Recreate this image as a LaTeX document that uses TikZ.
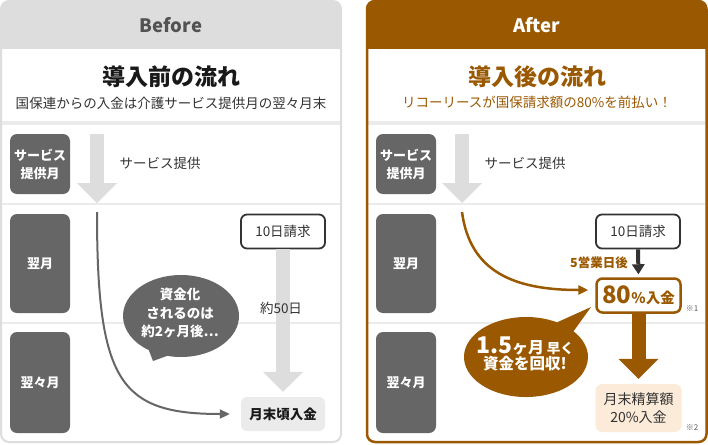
\documentclass[tikz,border=0pt]{standalone}
\usepackage{fontspec}
\setmainfont{Noto Sans CJK JP}
\usetikzlibrary{arrows.meta, shapes.callouts}
\definecolor{brn}{HTML}{9A5800}
\definecolor{boxgray}{HTML}{666666}
\definecolor{arrowgray}{HTML}{DDDDDD}
\definecolor{linegray}{HTML}{EBEBEB}
\definecolor{peach}{HTML}{FCEBD8}
\definecolor{ink}{HTML}{333333}
\newcommand{\fsz}[2]{\fontsize{#1}{#2}\selectfont}

\begin{document}
\begin{tikzpicture}[x=1pt, y=-1pt,
    month/.style={fill=boxgray, rounded corners=7pt, minimum width=60pt, text=white, align=center, font=\bfseries\fsz{13}{18}},
    bill/.style={draw=ink, line width=1.8pt, fill=white, rounded corners=6pt, minimum width=84pt, minimum height=34pt, text=ink, font=\fsz{13.5}{16}},
    note/.style={text=ink, font=\fsz{13.5}{16}},
    refmark/.style={text=ink!80, font=\fsz{8}{10}},
    blockarrow/.style={line width=14pt, -{Triangle[length=20pt, width=40pt, line width=0pt]}},
    bubble/.style={ellipse callout, callout pointer arc=20, inner sep=0pt}]
\useasboundingbox (0,0) rectangle (708,444);

\fill[white, rounded corners=8pt] (1,1) rectangle (341,442);
\fill[arrowgray, rounded corners=8pt] (1,1) rectangle (341,49);
\fill[arrowgray] (1,20) rectangle (341,49);
\fill[linegray] (1,121) rectangle (341,125);
\draw[linegray, line width=1.5pt] (1,204) -- (341,204) (1,323) -- (341,323);
\draw[arrowgray, line width=2pt, rounded corners=8pt] (1,1) rectangle (341,442);

\node[text=ink!85, font=\bfseries\fsz{18.5}{20}] (bhead) at (171,25) {Before};
\node[text=black!90, font=\bfseries\fsz{23}{25}] (btitle) at (171,77) {導入前の流れ};
\node[note] (bsub) at (171,103) {国保連からの入金は介護サービス提供月の翌々月末};

\node[month, minimum height=60pt] (bm1) at (40,164) {サービス\\提供月};
\node[month, minimum height=99pt] (bm2) at (40,263.5) {翌月};
\node[month, minimum height=101pt] (bm3) at (40,382.5) {翌々月};

\coordinate (bs1) at (97,134);
\coordinate (bs2) at (97,203);
\draw[blockarrow, arrowgray] (bs1) -- (bs2);
\node[note, anchor=west] (bsvc) at (116,163) {サービス提供};

\node[bill] (bbill) at (283,231.5) {10日請求};
\node[fill=linegray, rounded corners=6pt, minimum width=84pt, minimum height=34pt, text=black!90, font=\bfseries\fsz{13.5}{16}] (bpay) at (283,414) {月末頃入金};
\draw[blockarrow, arrowgray, shorten >=5pt] (bbill.south) -- (bpay.north);
\node[note] (bdays) at (281,308) {約50日};

\coordinate (bflow) at (97,212);
\draw[boxgray, line width=2pt, -{Triangle[length=10pt, width=9pt]}, shorten >=11pt] (bflow) .. controls +(0,170) and +(-121,0) .. (bpay.west);

\node[bubble, fill=boxgray, minimum width=116pt, minimum height=82pt, callout absolute pointer={(153,361)}] (bbub) at (181,316) {};
\node[text=white, align=center, font=\bfseries\fsz{13.5}{18.5}] (bbubtxt) at (180,313) {資金化\\されるのは\\約2ヶ月後⋯};

\fill[white, rounded corners=8pt] (367,1) rectangle (706.5,442);
\fill[brn, rounded corners=8pt] (367,1) rectangle (706.5,49);
\fill[brn] (367,20) rectangle (706.5,49);
\fill[linegray] (368,121) rectangle (705,125);
\draw[linegray, line width=1.5pt] (368,204) -- (705,204) (368,323) -- (705,323);
\draw[brn, line width=2.5pt, rounded corners=8pt] (367,1) rectangle (706.5,442);

\node[text=white, font=\bfseries\fsz{18.5}{20}] (ahead) at (537,25) {After};
\node[text=brn, font=\bfseries\fsz{23}{25}] (atitle) at (537,77) {導入後の流れ};
\node[text=brn, font=\fsz{13.5}{16}] (asub) at (537,102) {リコーリースが国保請求額の80\%を前払い！};

\node[month, minimum height=60pt] (am1) at (406,164) {サービス\\提供月};
\node[month, minimum height=99pt] (am2) at (406,263.5) {翌月};
\node[month, minimum height=101pt] (am3) at (406,382.5) {翌々月};

\coordinate (as1) at (462,134);
\coordinate (as2) at (462,203);
\draw[blockarrow, arrowgray] (as1) -- (as2);
\node[note, anchor=west] (asvc) at (481,163) {サービス提供};

\node[bill] (abill) at (638,231.5) {10日請求};
\node[bill, draw=brn, line width=2.5pt, text=brn, font=\bfseries] (apct) at (638.5,295.5) {\fsz{24}{26}80\fsz{14.5}{16}\%入金};
\node[refmark] (aref1) at (692,309) {※1};
\draw[ink, line width=4pt, -{Triangle[length=10pt, width=13pt, line width=0pt]}, shorten >=3pt] (abill.south) -- (apct.north);
\node[text=brn, font=\bfseries\fsz{12.5}{14}] (adays) at (599,263) {5営業日後};

\node[fill=peach, rounded corners=7pt, minimum width=86pt, minimum height=48pt, text=ink, align=center, font=\fsz{14}{18}] (arest) at (638.5,408) {月末精算額\\20\%入金};
\node[refmark] (aref2) at (692,428) {※2};
\draw[blockarrow, brn, shorten >=5pt] (apct.south) -- (arest.north);

\coordinate (aflow) at (462,212);
\draw[brn, line width=2.5pt, -{Triangle[length=10pt, width=9pt]}, shorten >=7pt] (aflow) .. controls +(8,60) and +(-81,0) .. ([yshift=5.5pt]apct.west);

\node[bubble, fill=brn, minimum width=124pt, minimum height=80pt, callout absolute pointer={(591,307)}] (abub) at (526,357) {};
\node[text=white, align=center, font=\bfseries] (abubtxt) at (525,354) {\fsz{23}{25}1.5\fsz{16}{25}ヶ月\,\fsz{13.5}{25}早く\\\fsz{15.5}{25}資金を回収!};
\end{tikzpicture}
\end{document}
